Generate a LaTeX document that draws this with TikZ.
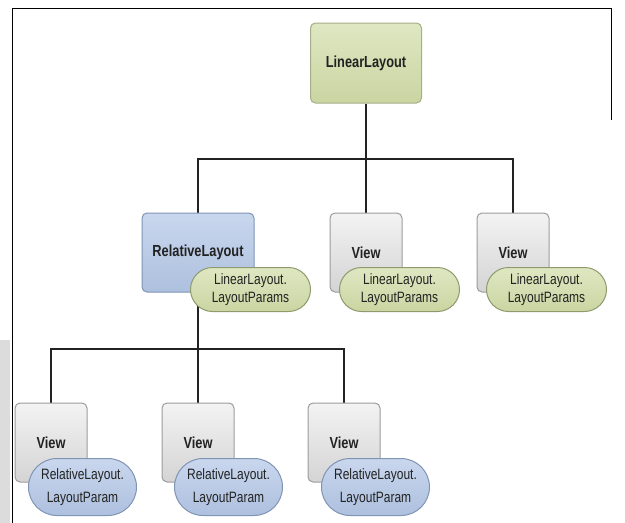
\documentclass[tikz,border=0pt]{standalone}
\usepackage{fontspec}
\setmainfont{Liberation Sans}
\newfontfamily\diagfont[FakeStretch=0.8]{Liberation Sans}
\usetikzlibrary{positioning,shapes.misc,backgrounds}
\definecolor{Ink}{HTML}{222222}
\definecolor{ViewTop}{HTML}{F3F3F3}
\definecolor{ViewBot}{HTML}{D4D4D4}
\definecolor{ViewLine}{HTML}{9C9C9C}
\definecolor{GreenTop}{HTML}{DFE7C2}
\definecolor{GreenBot}{HTML}{CAD5A2}
\definecolor{GreenLine}{HTML}{8E9A6C}
\definecolor{BlueTop}{HTML}{C9D7EE}
\definecolor{BlueBot}{HTML}{ADC0DE}
\definecolor{BlueLine}{HTML}{8094B4}
\definecolor{Strip}{HTML}{DCDCDC}
\tikzset{
 box/.style={rounded corners=5pt, line width=1pt, minimum width=72pt, minimum height=79pt, inner sep=0pt, text=Ink, font=\diagfont\bfseries\fontsize{16}{18}\selectfont},
 viewbox/.style={box, draw=ViewLine, top color=ViewTop, bottom color=ViewBot},
 greenbox/.style={box, draw=GreenLine!80, top color=GreenTop, bottom color=GreenBot},
 bluebox/.style={box, draw=BlueLine, top color=BlueTop, bottom color=BlueBot},
 param/.style={rounded rectangle, line width=1pt, align=center, inner sep=0pt, text=Ink},
 greenparam/.style={param, draw=GreenLine, top color=GreenTop, bottom color=GreenBot, minimum width=120pt, minimum height=44pt, font=\diagfont\fontsize{15}{18}\selectfont},
 blueparam/.style={param, draw=BlueLine, top color=BlueTop, bottom color=BlueBot, minimum width=108pt, minimum height=57pt, font=\diagfont\fontsize{15}{23}\selectfont},
 link/.style={draw=Ink, line width=1.1pt}
}

\begin{document}
\begin{tikzpicture}[x=1pt,y=-1pt]
\useasboundingbox (0,0) rectangle (625,523);
\fill[Strip] (0,340) rectangle (10,523);
\draw[line width=1.5pt] (12.5,523) -- (12.5,8.5) -- (611.5,8.5) -- (611.5,120);
% top level
\node[greenbox,minimum width=111pt,minimum height=80pt] (root) at (366,63) {LinearLayout};
\coordinate (j1) at (366,159);
% second row
\node[bluebox,minimum width=112pt] (rel) at (198,252.5) {RelativeLayout};
\node[viewbox] (v1) at (366,252.5) {View};
\node[viewbox] (v2) at (513,252.5) {View};
\node[greenparam,xshift=-4pt,yshift=3pt] (relp) at (rel.south east) {LinearLayout.\\LayoutParams};
\node[greenparam,xshift=-3pt,yshift=3pt] (v1p) at (v1.south east) {LinearLayout.\\LayoutParams};
\node[greenparam,xshift=-3pt,yshift=3pt] (v2p) at (v2.south east) {LinearLayout.\\LayoutParams};
\coordinate (j2) at (198,349);
% third row
\node[viewbox] (b1) at (51,442.5) {View};
\node[viewbox] (b2) at (198,442.5) {View};
\node[viewbox] (b3) at (344,442.5) {View};
\node[blueparam,xshift=-5pt,yshift=-4.5pt] (b1p) at (b1.south east) {RelativeLayout.\\LayoutParam};
\node[blueparam,xshift=-6pt,yshift=-4.5pt] (b2p) at (b2.south east) {RelativeLayout.\\LayoutParam};
\node[blueparam,xshift=-5pt,yshift=-4.5pt] (b3p) at (b3.south east) {RelativeLayout.\\LayoutParam};
\begin{scope}[on background layer]
\draw[link] (root) -- (j1);
\draw[link] (rel.north) |- (j1) -| (v2.north);
\draw[link] (j1) -- (v1.north);
\draw[link] (rel) -- (j2);
\draw[link] (b1.north) |- (j2) -| (b3.north);
\draw[link] (j2) -- (b2.north);
\end{scope}
\end{tikzpicture}
\end{document}
